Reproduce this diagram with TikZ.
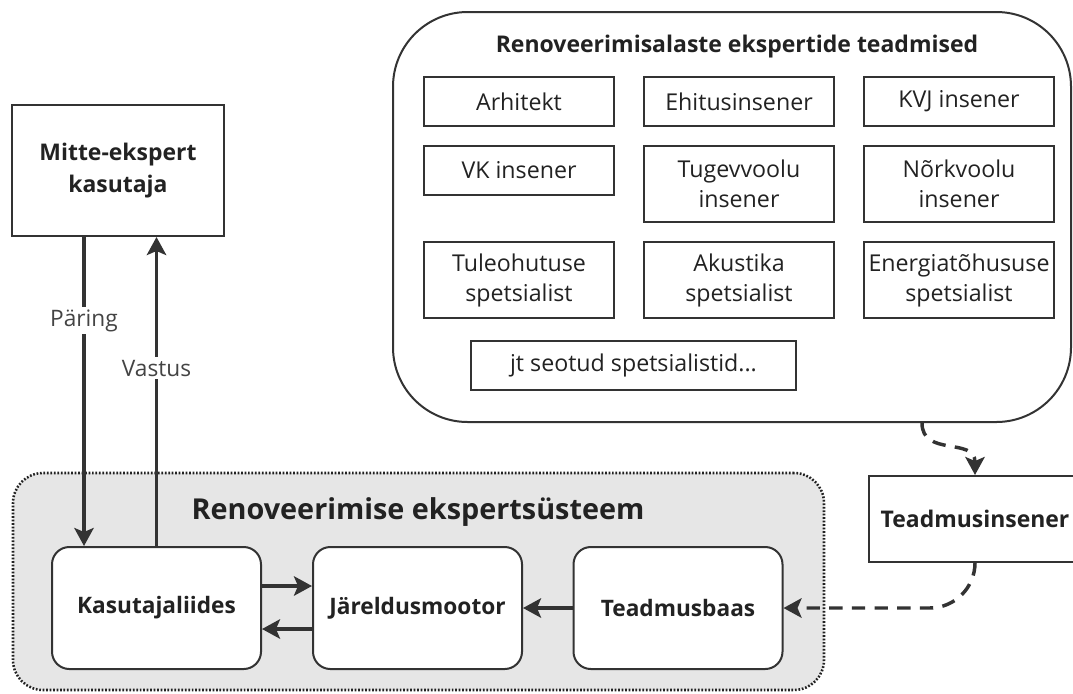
\documentclass[tikz,border=0pt]{standalone}
\usepackage{fontspec}
\setmainfont{Open Sans}
\usetikzlibrary{arrows.meta,calc}

\definecolor{ink}{HTML}{333333}
\definecolor{txt}{HTML}{222222}
\definecolor{lbl}{HTML}{444444}
\definecolor{panel}{HTML}{E6E6E6}

\begin{document}
\begin{tikzpicture}[x=0.75pt,y=-0.75pt,
  every node/.style={text=txt, inner sep=0pt, align=center},
  role/.style={draw=ink, line width=1.5pt, fill=white,
    minimum width=142.5pt, minimum height=36.75pt,
    font=\fontsize{17.4}{22.5}\selectfont},
  tallrole/.style={role, minimum height=57pt},
  actor/.style={draw=ink, line width=1.5pt, fill=white,
    minimum width=159pt, font=\bfseries\fontsize{17.2}{24}\selectfont},
  module/.style={draw=ink, line width=1.5pt, fill=white, rounded corners=13pt,
    minimum width=156.75pt, minimum height=91.5pt,
    font=\bfseries\fontsize{17}{22}\selectfont},
  flow/.style={draw=ink, line width=2.6pt,
    -{Stealth[length=13.5pt,width=14.5pt,inset=3pt]}},
  dflow/.style={flow, dash pattern=on 10pt off 7pt},
  flowlabel/.style={fill=white, inner sep=2pt, text=lbl,
    font=\fontsize{17}{20}\selectfont},
]
% page frame
\useasboundingbox (0,0) rectangle (1073,693);
\fill[white] (0,0) rectangle (1073,693);

% knowledge of renovation experts
\node[draw=ink, line width=1.5pt, rounded corners=56pt,
  minimum width=508.5pt, minimum height=307.5pt] (know) at (732,217) {};
\node[font=\bfseries\fontsize{17.25}{20}\selectfont] (ktitle) at (737,47)
  {Renoveerimisalaste ekspertide teadmised};

\node[role] (arh) at (519,101.5) {Arhitekt};
\node[role] (ehi) at (739,101.5) {Ehitusinsener};
\node[role] (kvj) at (959,101.5) {KVJ insener};
\node[role] (vk)  at (519,170.5) {VK insener};
\node[tallrole] (tug) at (739,184) {Tugevvoolu\\insener};
\node[tallrole] (nor) at (959,184) {Nõrkvoolu\\insener};
\node[tallrole] (tul) at (519,280) {Tuleohutuse\\spetsialist};
\node[tallrole] (aku) at (739,280) {Akustika\\spetsialist};
\node[tallrole] (ene) at (959,280) {Energiatõhususe\\spetsialist};
\node[role, minimum width=243.75pt] (jt) at (633.5,365.5) {jt seotud spetsialistid...};

% user
\node[actor, minimum height=98.25pt] (user) at (118,170.5) {Mitte-ekspert\\kasutaja};

% expert system
\node[draw=txt, fill=panel, line width=1.9pt, dash pattern=on 1.3pt off 1.3pt,
  rounded corners=22.5pt, minimum width=608.25pt, minimum height=162.75pt]
  (sys) at (418.5,581.5) {};
\node[font=\bfseries\fontsize{21.6}{26}\selectfont] (stitle) at (418,512)
  {Renoveerimise ekspertsüsteem};

\node[module] (kas) at (156.5,608) {Kasutajaliides};
\node[module] (jar) at (417.5,608) {Järeldusmootor};
\node[module] (tea) at (678,608) {Teadmusbaas};

% knowledge engineer
\node[actor, minimum height=64.5pt] (tin) at (975,519) {Teadmusinsener};

% query and answer
\coordinate (qx) at (84,0);
\draw[flow] (user.south -| qx) -- node[flowlabel, pos=0.27] {Päring} (kas.north -| qx);
\draw[flow] (kas.north) -- node[flowlabel, pos=0.576] {Vastus} (user.south -| kas.north);

% inside the system
\draw[flow] ([yshift=16.5pt]kas.east) -- ([yshift=16.5pt]jar.west);
\draw[flow] ([yshift=-15.75pt]jar.west) -- ([yshift=-15.75pt]kas.east);
\draw[flow] (tea.west) -- (jar.east);

% knowledge acquisition
\coordinate (kx) at (922,0);
\draw[dflow] (know.south -| kx) .. controls +(0,34) and +(0,-38) .. (tin.north);
\draw[dflow, rounded corners=34pt] (tin.south) -- (tin.south |- tea.east) -- (tea.east);
\end{tikzpicture}
\end{document}
